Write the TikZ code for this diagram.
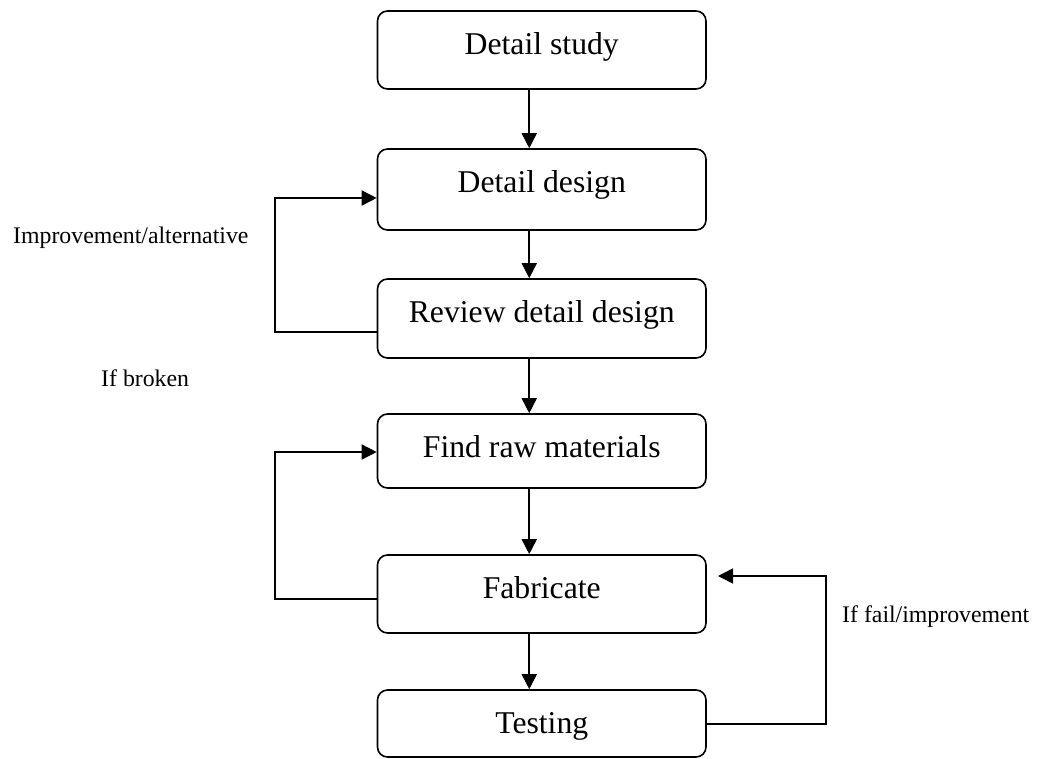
\documentclass[tikz,border=0pt]{standalone}
\usepackage{fontspec}
\setmainfont{Liberation Serif}
\usetikzlibrary{arrows.meta}
\begin{document}
\begin{tikzpicture}[x=1pt,y=-1pt,
  box/.style={draw, line width=1.6pt, rounded corners=10pt, minimum width=328.5pt,
    font=\fontsize{31.7}{38}\selectfont, text height=43pt, inner sep=0pt},
  arr/.style={line width=1.6pt, -{Triangle[length=15pt,width=15pt]}},
  lbl/.style={font=\fontsize{23.8}{28}\selectfont, inner sep=0pt, anchor=west}]
\useasboundingbox (0,0) rectangle (1041,758);
\node[box, minimum height=78pt, text depth=35pt] (ds) at (541.75,50) {Detail study};
\node[box, minimum height=81pt, text depth=38pt] (dd) at (541.75,189.5) {Detail design};
\node[box, minimum height=79pt, text depth=36pt] (rdd) at (541.75,318.5) {Review detail design};
\node[box, minimum height=74pt, text depth=31pt] (frm) at (541.75,451) {Find raw materials};
\node[box, minimum height=78pt, text depth=35pt] (fab) at (541.75,594) {Fabricate};
\node[box, minimum height=67pt, text depth=24pt] (test) at (541.75,723.5) {Testing};
\draw[arr] ([xshift=-12.5pt]ds.south) -- ([xshift=-12.5pt]dd.north);
\draw[arr] ([xshift=-12.5pt]dd.south) -- ([xshift=-12.5pt]rdd.north);
\draw[arr] ([xshift=-12.5pt]rdd.south) -- ([xshift=-12.5pt]frm.north);
\draw[arr] ([xshift=-12.5pt]frm.south) -- ([xshift=-12.5pt]fab.north);
\draw[arr] ([xshift=-12.5pt]fab.south) -- ([xshift=-12.5pt]test.north);
\coordinate (l1) at (275,332);
\coordinate (l2) at (275,198);
\draw[arr] (rdd.west |- l1) -- (l1) -- (l2) -- (dd.west |- l2);
\coordinate (l3) at (275,599);
\coordinate (l4) at (275,452);
\draw[arr] (fab.west |- l3) -- (l3) -- (l4) -- (frm.west |- l4);
\coordinate (r1) at (826,724);
\coordinate (r2) at (826,576);
\coordinate (rt) at (718,576);
\draw[arr] (test.east |- r1) -- (r1) -- (r2) -- (rt);
\node[lbl] (t1) at (13,238) {Improvement/alternative};
\node[lbl] (t2) at (101,378) {If broken};
\node[lbl] (t3) at (842,617) {If fail/improvement};
\end{tikzpicture}
\end{document}
